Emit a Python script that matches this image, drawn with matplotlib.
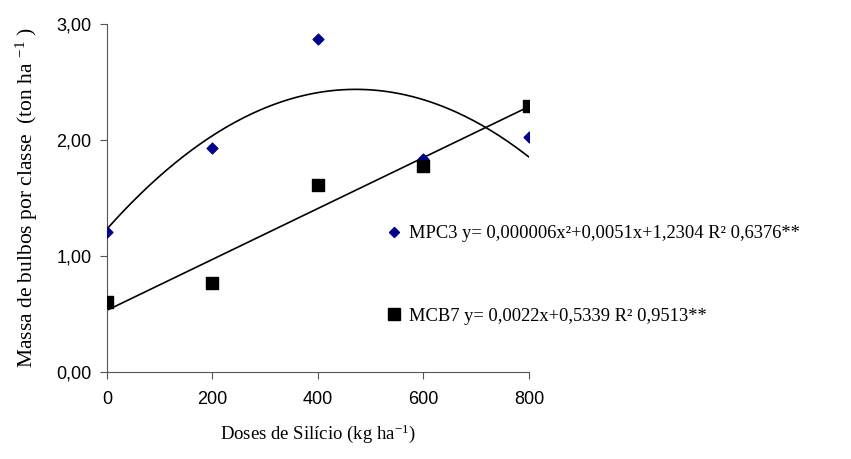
import matplotlib.pyplot as plt
import numpy as np
from matplotlib.lines import Line2D

# data
doses = [0, 200, 400, 600, 800]
mpc3 = [1.21, 1.93, 2.87, 1.84, 2.03]
mcb7 = [0.60, 0.77, 1.61, 1.78, 2.29]
x_ticks = [0, 200, 400, 600, 800]
y_ticks = [0, 1, 2, 3]
y_tick_labels = ['0,00', '1,00', '2,00', '3,00']
mpc3_label = 'MPC3 y= 0,000006x²+0,0051x+1,2304 R² 0,6376**'
mcb7_label = 'MCB7 y= 0,0022x+0,5339 R² 0,9513**'

serif = ['Liberation Serif', 'DejaVu Serif']
sans = ['Liberation Sans Narrow', 'Liberation Sans', 'DejaVu Sans']

plt.rcParams['mathtext.fontset'] = 'custom'
plt.rcParams['mathtext.rm'] = 'Liberation Serif'
plt.rcParams['mathtext.it'] = 'Liberation Serif'
plt.rcParams['mathtext.default'] = 'rm'

fig = plt.figure(figsize=(8.51, 4.59), dpi=100, facecolor='white')
ax = fig.add_axes([0.1257, 0.1895, 0.4959, 0.7582])

# trend lines fitted from the points
xs = np.linspace(0, 800, 200)
quad = np.polyfit(doses, mpc3, 2)
lin = np.polyfit(doses, mcb7, 1)
ax.plot(xs, np.polyval(quad, xs), color='black', lw=1.2, zorder=2)
ax.plot(xs, np.polyval(lin, xs), color='black', lw=1.2, zorder=2)

ax.scatter(doses, mpc3, marker='D', s=30, color='#00008B', zorder=3)
ax.scatter(doses, mcb7, marker='s', s=80, color='black', zorder=3)

ax.set_xlim(0, 800)
ax.set_ylim(0, 3)
ax.set_xticks(x_ticks)
ax.set_yticks(y_ticks)
ax.set_yticklabels(y_tick_labels)
for lbl in ax.get_xticklabels() + ax.get_yticklabels():
    lbl.set_family(sans)
    lbl.set_fontsize(13)
ax.tick_params(direction='out', length=5, color='#555555', pad=6)
ax.tick_params(axis='x', pad=9)
for side in ['top', 'right']:
    ax.spines[side].set_visible(False)
for side in ['left', 'bottom']:
    ax.spines[side].set_color('#555555')

ax.set_xlabel('Doses de Silício (kg ha$^{-1}$)', family=serif, fontsize=13.5, labelpad=10)
ax.set_ylabel('Massa de bulbos por classe  (ton ha $^{-1}$ )', family=serif,
              fontsize=15.5, labelpad=12)

handles = [
    Line2D([], [], ls='none', marker='D', ms=5, color='#00008B'),
    Line2D([], [], ls='none', marker='s', ms=8, color='black'),
]
leg = ax.legend(handles, [mpc3_label, mcb7_label], loc='upper left',
                bbox_to_anchor=(0.62, 0.47), frameon=False, labelspacing=3.55,
                handletextpad=0.3, handlelength=1.0,
                prop={'family': serif, 'size': 13.3})

fig.savefig('out.png', dpi=100, facecolor='white')
